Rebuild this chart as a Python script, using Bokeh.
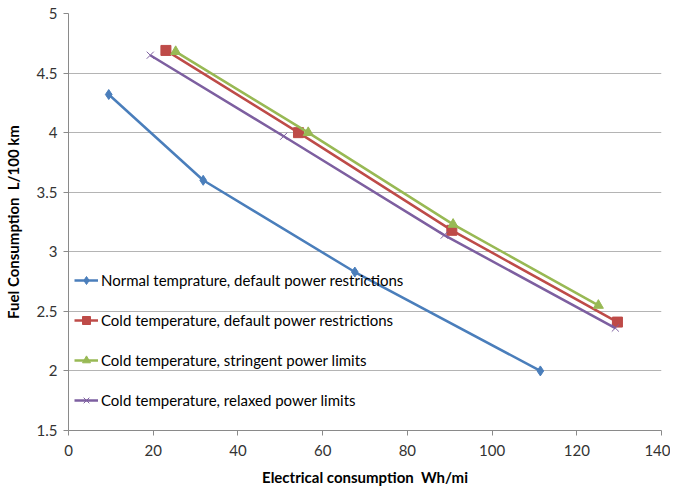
from bokeh.plotting import figure
from bokeh.models import FixedTicker, CustomJSTickFormatter, Legend, LegendItem, Range1d
from bokeh.embed import file_html
from bokeh.resources import INLINE

# Data
x_ticks = [0, 20, 40, 60, 80, 100, 120, 140]
y_ticks = [1.5, 2, 2.5, 3, 3.5, 4, 4.5, 5]

normal_x = [9.5, 31.8, 67.6, 111.4]
normal_y = [4.32, 3.60, 2.83, 2.00]

cold_default_x = [23.0, 54.3, 90.5, 129.6]
cold_default_y = [4.69, 4.00, 3.18, 2.41]

cold_stringent_x = [25.3, 56.6, 90.8, 125.1]
cold_stringent_y = [4.68, 4.00, 3.23, 2.55]

cold_relaxed_x = [19.3, 50.8, 88.7, 129.1]
cold_relaxed_y = [4.65, 3.97, 3.14, 2.36]

labels = [
    "Normal temprature, default power restrictions",
    "Cold temperature, default power restrictions",
    "Cold temperature, stringent power limits",
    "Cold temperature, relaxed power limits",
]

FONT = "Lato"
W, H = 670, 488

p = figure(width=W, height=H, output_backend="svg", toolbar_location=None,
           x_range=Range1d(0, 140), y_range=Range1d(1.5, 5),
           min_border_left=66, min_border_right=9, min_border_top=13, min_border_bottom=55)
p.outline_line_color = None
p.background_fill_color = "white"
p.border_fill_color = "white"

p.xgrid.grid_line_color = None
p.ygrid.grid_line_color = "#b4b4b4"
p.ygrid.grid_line_width = 1.2

p.xaxis.ticker = FixedTicker(ticks=x_ticks)
p.yaxis.ticker = FixedTicker(ticks=y_ticks)
p.yaxis.formatter = CustomJSTickFormatter(code="return tick.toString();")

for ax in (p.xaxis[0], p.yaxis[0]):
    ax.axis_line_color = "#8a8a8a"
    ax.major_tick_line_color = "#8a8a8a"
    ax.major_tick_out = 5
    ax.major_tick_in = 0
    ax.minor_tick_line_color = None
    ax.major_label_text_font = FONT
    ax.major_label_text_font_size = "15px"
    ax.major_label_text_color = "#333333"
    ax.axis_label_text_font = FONT
    ax.axis_label_text_font_style = "bold"
    ax.axis_label_text_font_size = "15px"
    ax.axis_label_text_color = "black"

p.xaxis.axis_label = "Electrical consumption\u00a0\u00a0Wh/mi"
p.yaxis.axis_label = "Fuel Consumption\u00a0\u00a0L/100 km"
p.xaxis.major_label_standoff = 9
p.xaxis.axis_label_standoff = 9
p.yaxis.major_label_standoff = 6
p.yaxis.axis_label_standoff = 12

blue = "#4a7ebb"
red = "#be4b48"
green = "#98b954"
purple = "#7d5fa0"

l1 = p.line(normal_x, normal_y, line_color=blue, line_width=2.5)
m1 = p.scatter(normal_x, normal_y, marker="diamond", size=10, color=blue)
l2 = p.line(cold_default_x, cold_default_y, line_color=red, line_width=2.5)
m2 = p.scatter(cold_default_x, cold_default_y, marker="square", size=10, color=red)
l3 = p.line(cold_stringent_x, cold_stringent_y, line_color=green, line_width=2.5)
m3 = p.scatter(cold_stringent_x, cold_stringent_y, marker="triangle", size=10, color=green)
l4 = p.line(cold_relaxed_x, cold_relaxed_y, line_color=purple, line_width=2.5)
m4 = p.scatter(cold_relaxed_x, cold_relaxed_y, marker="x", size=10, line_color=purple, line_width=1)

legend = Legend(items=[
    LegendItem(label=labels[0], renderers=[l1, m1]),
    LegendItem(label=labels[1], renderers=[l2, m2]),
    LegendItem(label=labels[2], renderers=[l3, m3]),
    LegendItem(label=labels[3], renderers=[l4, m4]),
], location=(6, 20))
legend.background_fill_alpha = 0
legend.border_line_color = None
legend.label_text_font = FONT
legend.label_text_font_size = "15px"
legend.label_text_color = "black"
legend.glyph_width = 24
legend.label_standoff = 3
legend.spacing = 20
legend.padding = 2
legend.margin = 0
p.add_layout(legend, "center")

open("out.html", "w").write(file_html(p, INLINE))
